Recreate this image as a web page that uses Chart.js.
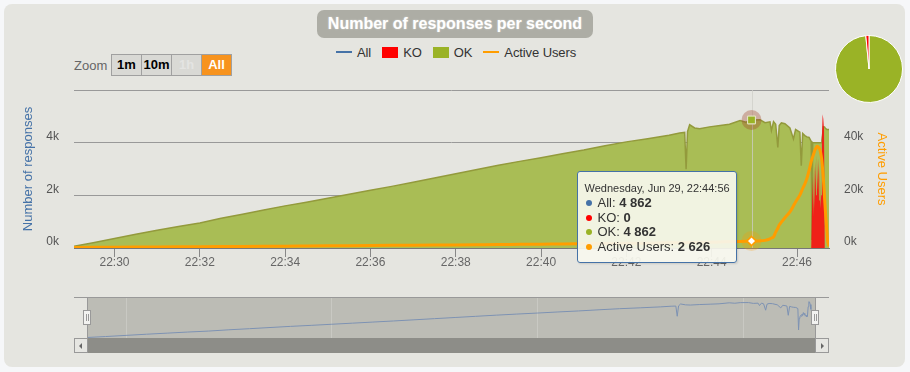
<!DOCTYPE html>
<html>
<head>
<meta charset="utf-8">
<script src="https://cdn.jsdelivr.net/npm/chart.js@4.4.1/dist/chart.umd.min.js"></script>
<style>
  html, body { margin: 0; padding: 0; background: #f6f7f9; font-family: "Liberation Sans", Arial, sans-serif; }
  #panel { position: absolute; left: 4px; top: 4px; width: 901px; height: 363px; background: #e5e5e0; border-radius: 8px; }
  #title { position: absolute; left: 317px; top: 10px; width: 276px; height: 28px; border-radius: 7px; background: #adada5;
           color: #fff; font-weight: bold; font-size: 16px; line-height: 28px; text-align: center; text-shadow: 0 0 2px rgba(255,255,255,0.5); }
  #legend { position: absolute; left: 336px; top: 44px; height: 16px; display: flex; align-items: center; font-size: 13px; color: #333; white-space: nowrap; letter-spacing: -0.1px; }
  #legend .item { display: flex; align-items: center; margin-right: 11px; }
  #legend .line { display: inline-block; width: 16px; height: 2px; margin-right: 5px; }
  #legend .box { display: inline-block; width: 16px; height: 11px; margin-right: 5px; }
  #zoomlbl { position: absolute; left: 74px; top: 58px; font-size: 13px; line-height: 16px; color: #666; }
  .zb { position: absolute; top: 54px; width: 31px; height: 22px; box-sizing: border-box; border: 1px solid #a0a0a0; background: #d9d9d5;
        font-size: 13px; font-weight: bold; line-height: 20px; text-align: center; color: #000; }
  .zb.off { color: #e4e4e2; }
  .zb.on { background: #f7931e; color: #fff; }
  canvas { position: absolute; }
  #navtop { position: absolute; left: 74px; top: 297px; width: 755px; height: 1px; background: #999; }
  .navside { position: absolute; top: 298px; width: 1px; height: 40px; background: #999; }
  .handle { position: absolute; top: 310px; width: 8px; height: 15px; box-sizing: border-box; border: 1px solid #999; background: #f2f2f0; }
  .handle::before, .handle::after { content: ""; position: absolute; top: 3px; width: 1px; height: 7px; background: #999; }
  .handle::before { left: 2px; } .handle::after { left: 4px; }
  #sbar { position: absolute; left: 87px; top: 338px; width: 728px; height: 15px; background: #8d8d88; }
  .sbtn { position: absolute; top: 338px; width: 14px; height: 15px; box-sizing: border-box; border: 1px solid #999; background: #e6e6e2; }
  .sbtn .arr { position: absolute; top: 4px; width: 0; height: 0; border-top: 3px solid transparent; border-bottom: 3px solid transparent; }
  #tip { position: absolute; display: none; width: 158px; height: 90px; border: 1px solid #4572A7; border-radius: 3px;
         background: rgba(247,247,238,0.92); box-shadow: 1px 1px 2px rgba(0,0,0,0.12); color: #333; }
  #tip .tt-title { position: absolute; left: 7px; top: 9px; font-size: 11px; line-height: 14px; white-space: nowrap; }
  #tip .tt-rows { position: absolute; left: 8px; top: 24px; }
  #tip .tt-row { font-size: 13px; line-height: 14.7px; height: 14.7px; white-space: nowrap; }
  #tip .tt-row i { display: inline-block; width: 6px; height: 6px; border-radius: 50%; margin-right: 6px; vertical-align: 1px; }
</style>
</head>
<body>
<div id="panel"></div>
<div id="title">Number of responses per second</div>
<div id="legend">
  <span class="item"><i class="line" style="background:#4572A7"></i>All</span>
  <span class="item"><i class="box" style="background:#ff0000"></i>KO</span>
  <span class="item"><i class="box" style="background:#9ab326"></i>OK</span>
  <span class="item"><i class="line" style="background:#FF9D00"></i>Active Users</span>
</div>
<div id="zoomlbl">Zoom</div>
<div class="zb" style="left:111px">1m</div>
<div class="zb" style="left:141px">10m</div>
<div class="zb off" style="left:171px">1h</div>
<div class="zb on" style="left:201px">All</div>

<canvas id="main" width="910" height="200" style="left:0;top:80px"></canvas>
<canvas id="pie" width="72" height="72" style="left:833px;top:33px"></canvas>

<div id="navtop"></div>
<canvas id="nav" width="728" height="40" style="left:87px;top:298px;background:#bcbcb5"></canvas>
<div class="navside" style="left:87px"></div>
<div class="navside" style="left:815px"></div>
<div class="handle" style="left:83px"></div>
<div class="handle" style="left:811px"></div>
<div id="sbar"></div>
<div class="sbtn" style="left:74px"><i class="arr" style="left:4px;border-right:3px solid #666"></i></div>
<div class="sbtn" style="left:815px"><i class="arr" style="left:5px;border-left:3px solid #666"></i></div>
<div id="tip"></div>

<script>
// ─── Data ────────────────────────────────────────────────────────────────────

const dayLabel = "Wednesday, Jun 29";
const hoverTime = "22:44:56";

const times = [
  "22:29:03", "22:29:30", "22:30:00", "22:30:30", "22:31:00", "22:31:30", "22:32:00", "22:32:30",
  "22:33:00", "22:33:30", "22:34:00", "22:34:30", "22:35:00", "22:35:30", "22:36:00", "22:36:30",
  "22:37:00", "22:37:30", "22:38:00", "22:38:30", "22:39:00", "22:39:30", "22:40:00", "22:40:30",
  "22:41:00", "22:41:30", "22:42:00", "22:42:30", "22:43:00", "22:43:15", "22:43:22", "22:43:24",
  "22:43:26", "22:43:29", "22:43:36", "22:43:43", "22:43:57", "22:44:12", "22:44:25", "22:44:40",
  "22:44:48", "22:44:56", "22:45:08", "22:45:15", "22:45:22", "22:45:24", "22:45:27", "22:45:30",
  "22:45:33", "22:45:35", "22:45:38", "22:45:43", "22:45:50", "22:45:55", "22:45:58", "22:46:04",
  "22:46:06", "22:46:08", "22:46:11", "22:46:14", "22:46:17", "22:46:20", "22:46:21", "22:46:22",
  "22:46:23", "22:46:24", "22:46:25", "22:46:26", "22:46:27", "22:46:28", "22:46:29", "22:46:30",
  "22:46:31", "22:46:32", "22:46:33", "22:46:34", "22:46:35", "22:46:36", "22:46:37", "22:46:38",
  "22:46:39", "22:46:40", "22:46:42", "22:46:43", "22:46:45",
];

const okValues = [
  70, 200, 360, 520, 670, 820, 950, 1130,
  1280, 1440, 1600, 1740, 1890, 2040, 2190, 2340,
  2500, 2660, 2820, 2980, 3140, 3290, 3430, 3580,
  3720, 3880, 4030, 4150, 4280, 4370, 4390, 2990,
  4420, 4680, 4560, 4530, 4600, 4650, 4700, 4840,
  4780, 4862, 4870, 4760, 4790, 4460, 4800, 4700,
  3820, 4650, 4750, 4720, 4560, 4140, 4500, 4400,
  3120, 4350, 4270, 4220, 4200, 4050, 300, 4000,
  4000, 4000, 4000, 4000, 4000, 4000, 4000, 4000,
  4000, 4000, 4000, 4000, 4100, 4300, 4600, 4600,
  4580, 4550, 4500, 4500, 4500,
];

const koValues = [
  0, 0, 0, 0, 0, 0, 0, 0,
  0, 0, 0, 0, 0, 0, 0, 0,
  0, 0, 0, 0, 0, 0, 0, 0,
  0, 0, 0, 0, 0, 0, 0, 0,
  0, 0, 0, 0, 0, 0, 0, 0,
  0, 0, 0, 0, 0, 0, 0, 0,
  0, 0, 0, 0, 0, 0, 0, 0,
  0, 0, 0, 0, 0, 0, 0, 2700,
  1200, 3100, 1500, 3300, 2000, 3500, 2200, 3400,
  1800, 3100, 1500, 2000, 4200, 5080, 4900, 4500,
  0, 0, 0, 0, 0,
];

const allValues = [
  70, 200, 360, 520, 670, 820, 950, 1130,
  1280, 1440, 1600, 1740, 1890, 2040, 2190, 2340,
  2500, 2660, 2820, 2980, 3140, 3290, 3430, 3580,
  3720, 3880, 4030, 4150, 4280, 4370, 4390, 2990,
  4420, 4680, 4560, 4530, 4600, 4650, 4700, 4840,
  4780, 4862, 4870, 4760, 4790, 4460, 4800, 4700,
  3820, 4650, 4750, 4720, 4560, 4140, 4500, 4400,
  3120, 4350, 4270, 4220, 4200, 4050, 1100, 2700,
  2900, 3100, 3000, 3300, 3100, 3500, 3200, 3400,
  3000, 3100, 2900, 3000, 4300, 5000, 4950, 4600,
  4000, 3600, 3500, 3500, 3500,
];

const userValues = [
  200, 250, 300, 350, 400, 450, 500, 550,
  600, 650, 700, 760, 820, 880, 940, 1000,
  1060, 1120, 1180, 1240, 1300, 1380, 1450, 1530,
  1600, 1680, 1760, 1850, 1950, 2000, 2030, 2040,
  2050, 2060, 2100, 2130, 2200, 2300, 2400, 2500,
  2560, 2626, 2700, 2900, 3500, 3800, 4200, 6000,
  7500, 8700, 9800, 11500, 13700, 16000, 17500, 20100,
  21300, 22600, 24300, 26500, 29500, 32900, 33800, 34600,
  35400, 36200, 37000, 37600, 38100, 38600, 38500, 38300,
  38000, 37400, 36500, 35000, 33000, 30000, 26600, 22500,
  18000, 13800, 6500, 2900, 600,
];

const xTickLabels = ["22:30", "22:32", "22:34", "22:36", "22:38", "22:40", "22:42", "22:44", "22:46"];
const navTickLabels = ["22:30", "22:35", "22:40", "22:45"];
const yTicks = [0, 2000, 4000, 6000];
const yTickLabels = ["0k", "2k", "4k", ""];
const y2Ticks = [0, 20000, 40000, 60000];
const y2TickLabels = ["0k", "20k", "40k", ""];

const pieLabels = ["OK", "KO"];
const pieValues = [2650000, 41000];

const colors = { All: "#4572A7", KO: "#ff0000", OK: "#9ab326", "Active Users": "#FF9D00" };
const tipOrder = ["All", "KO", "OK", "Active Users"];

// ─── Helpers ─────────────────────────────────────────────────────────────────

const FONT = '"Liberation Sans", Arial, sans-serif';
Chart.defaults.font.family = FONT;

function toSec(s) {
  const [h, m, sec] = s.split(":").map(Number);
  return h * 3600 + m * 60 + (sec || 0);
}

const pts = vals => times.map((t, i) => ({ x: toSec(t), y: vals[i] }));
const fmtNum = v => String(v).replace(/\B(?=(\d{3})+(?!\d))/g, " ");
const xMin = toSec(times[0]);
const xMax = toSec(times[times.length - 1]);

// fixed axis box sizes so the plot area lands where the reference has it
const fixWidth = w => s => { s.width = w; s.paddingTop = 0; s.paddingBottom = 0; };
const fixHeight = h => s => { s.height = h; s.paddingLeft = 0; s.paddingRight = 0; };

// ─── Tooltip (HTML, from the chart's tooltip model) ──────────────────────────

function drawTip({ chart, tooltip }) {
  const el = document.getElementById("tip");
  if (!tooltip.dataPoints || !tooltip.dataPoints.length) { el.style.display = "none"; return; }
  const rows = tipOrder
    .map(name => tooltip.dataPoints.find(p => p.dataset.label === name))
    .filter(Boolean);
  const t = times[tooltip.dataPoints[0].dataIndex];
  el.innerHTML = `<div class="tt-title">${dayLabel}, ${t}</div><div class="tt-rows">` +
    rows.map(p => `<div class="tt-row"><i style="background:${colors[p.dataset.label]}"></i>${p.dataset.label}: <b>${fmtNum(p.raw.y)}</b></div>`).join("") +
    `</div>`;
  el.style.display = "block";
  el.style.left = (chart.canvas.offsetLeft + tooltip.caretX - 175) + "px";
  el.style.top = (chart.canvas.offsetTop + chart.chartArea.bottom - 77) + "px";
}

// crosshair + halos round the hovered points
const hoverDecor = {
  id: "hoverDecor",
  afterDatasetsDraw(chart) {
    const active = chart.getActiveElements();
    if (!active.length) return;
    const { ctx, chartArea } = chart;
    const x = Math.round(active[0].element.x) + 0.5;
    ctx.save();
    ctx.strokeStyle = "rgba(205,205,200,0.75)";
    ctx.lineWidth = 1;
    ctx.beginPath();
    ctx.moveTo(x, chartArea.top);
    ctx.lineTo(x, chartArea.bottom);
    ctx.stroke();
    active.forEach(a => {
      const ds = chart.data.datasets[a.datasetIndex];
      if (!ds.halo) return;
      ctx.fillStyle = ds.halo;
      ctx.beginPath();
      ctx.arc(a.element.x, a.element.y, 10, 0, Math.PI * 2);
      ctx.fill();
    });
    ctx.restore();
    active.forEach(a => { if (chart.data.datasets[a.datasetIndex].halo) a.element.draw(ctx, chartArea); });
  },
};

// ─── Main chart ──────────────────────────────────────────────────────────────

const mainChart = new Chart(document.getElementById("main"), {
  type: "line",
  data: {
    datasets: [
      {
        label: "All",
        data: pts(allValues),
        showLine: false,
        borderColor: colors.All,
        backgroundColor: colors.All,
        pointRadius: 0,
        pointHoverRadius: 0,
      },
      {
        label: "Active Users",
        data: pts(userValues),
        yAxisID: "y2",
        borderColor: colors["Active Users"],
        borderWidth: 3,
        cubicInterpolationMode: "monotone",
        fill: false,
        pointRadius: 0,
        pointStyle: "rectRot",
        pointHoverRadius: 4.5,
        pointHoverBackgroundColor: "#fff",
        pointHoverBorderColor: colors["Active Users"],
        pointHoverBorderWidth: 1.5,
        halo: "rgba(255,157,0,0.25)",
      },
      {
        label: "KO",
        data: pts(koValues),
        fill: "origin",
        backgroundColor: "rgba(245,20,20,0.92)",
        borderColor: "transparent",
        borderWidth: 1,
        pointRadius: 0,
        pointHoverRadius: 0,
      },
      {
        label: "OK",
        data: pts(okValues),
        fill: "origin",
        backgroundColor: "#a9bd55",
        borderColor: "#939a3c",
        borderWidth: 1.5,
        pointRadius: 0,
        pointStyle: "rect",
        pointHoverRadius: 5.5,
        pointHoverBackgroundColor: colors.OK,
        pointHoverBorderColor: "#e8eccc",
        pointHoverBorderWidth: 1,
        halo: "rgba(160,70,40,0.35)",
      },
    ],
  },
  options: {
    responsive: false,
    animation: false,
    events: [],
    layout: { padding: { top: 10, left: 0, right: 0, bottom: 0 } },
    plugins: {
      legend: { display: false },
      tooltip: { enabled: false, mode: "index", intersect: false, external: drawTip },
    },
    scales: {
      x: {
        type: "linear",
        min: xMin,
        max: xMax,
        afterBuildTicks: s => { s.ticks = xTickLabels.map(l => ({ value: toSec(l) })); },
        afterFit: fixHeight(32),
        ticks: {
          callback: (v, i) => xTickLabels[i],
          color: "#666",
          font: { size: 12 },
          padding: -2,
          maxRotation: 0,
          autoSkip: false,
        },
        grid: { drawOnChartArea: false, drawTicks: true, tickLength: 9, color: "#888" },
        border: { color: "#777" },
      },
      y: {
        position: "left",
        min: 0,
        max: 6000,
        afterBuildTicks: s => { s.ticks = yTicks.map(v => ({ value: v })); },
        afterFit: fixWidth(74),
        ticks: {
          callback: (v, i) => yTickLabels[i],
          color: "#555",
          font: { size: 12 },
          padding: 15,
          labelOffset: -6,
        },
        grid: { color: "#999", drawTicks: false },
        border: { display: false },
        title: { display: true, text: "Number of responses", color: colors.All, font: { size: 13 }, padding: { top: 21, bottom: 0 } },
      },
      y2: {
        position: "right",
        min: 0,
        max: 60000,
        afterBuildTicks: s => { s.ticks = y2Ticks.map(v => ({ value: v })); },
        afterFit: fixWidth(81),
        ticks: {
          callback: (v, i) => y2TickLabels[i],
          color: "#555",
          font: { size: 12 },
          padding: 15,
          labelOffset: -6,
        },
        grid: { drawOnChartArea: false, drawTicks: false },
        border: { display: false },
        title: { display: true, text: "Active Users", color: colors["Active Users"], font: { size: 13 }, padding: { top: 21, bottom: 0 } },
      },
    },
  },
  plugins: [hoverDecor],
});

// show the hovered point from the reference
const hoverIdx = times.indexOf(hoverTime);
const active = mainChart.data.datasets.map((d, i) => ({ datasetIndex: i, index: hoverIdx }));
mainChart.setActiveElements(active);
mainChart.tooltip.setActiveElements(active, { x: 0, y: 0 });
mainChart.update("none");

// ─── Pie ─────────────────────────────────────────────────────────────────────

new Chart(document.getElementById("pie"), {
  type: "pie",
  data: {
    labels: pieLabels,
    datasets: [{
      data: pieValues,
      backgroundColor: pieLabels.map(l => colors[l]),
      borderColor: "#fff",
      borderWidth: 1,
    }],
  },
  options: {
    responsive: false,
    animation: false,
    events: [],
    layout: { padding: 2 },
    plugins: { legend: { display: false }, tooltip: { enabled: false } },
  },
});

// ─── Navigator ───────────────────────────────────────────────────────────────

new Chart(document.getElementById("nav"), {
  type: "line",
  data: {
    datasets: [{
      label: "All",
      data: pts(allValues),
      borderColor: "#7d92b3",
      borderWidth: 1,
      pointRadius: 0,
      fill: false,
    }],
  },
  options: {
    responsive: false,
    animation: false,
    events: [],
    layout: { padding: 0 },
    plugins: { legend: { display: false }, tooltip: { enabled: false } },
    scales: {
      x: {
        type: "linear",
        min: xMin,
        max: xMax,
        afterBuildTicks: s => { s.ticks = navTickLabels.map(l => ({ value: toSec(l) })); },
        afterFit: fixHeight(0),
        ticks: {
          callback: (v, i) => navTickLabels[i],
          align: "start",
          labelOffset: 4,
          padding: -14,
          color: "#8a8a86",
          font: { size: 12 },
          maxRotation: 0,
          autoSkip: false,
        },
        grid: { color: "#c9c9c3", drawTicks: false },
        border: { display: false },
      },
      y: { display: false, min: 0, max: 5500 },
    },
  },
});
</script>
</body>
</html>
